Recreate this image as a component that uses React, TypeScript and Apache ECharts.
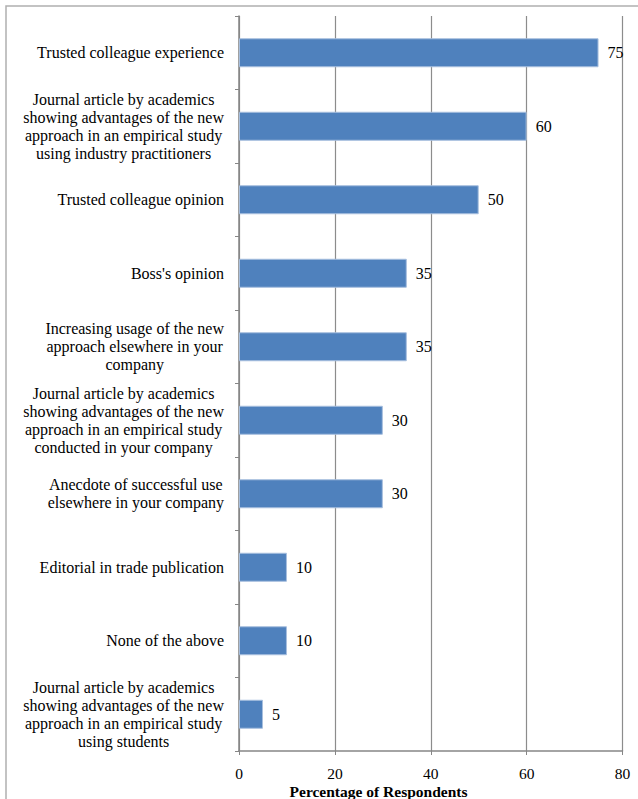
import React, { useEffect, useRef } from "react";
import * as echarts from "echarts";

const categories = [
  "Trusted colleague experience",
  "Journal article by academics\nshowing advantages of the new\napproach in an empirical study\nusing industry practitioners",
  "Trusted colleague opinion",
  "Boss's opinion",
  "Increasing usage of the new\napproach elsewhere in your\ncompany",
  "Journal article by academics\nshowing advantages of the new\napproach in an empirical study\nconducted in your company",
  "Anecdote of successful use\nelsewhere in your company",
  "Editorial in trade publication",
  "None of the above",
  "Journal article by academics\nshowing advantages of the new\napproach in an empirical study\nusing students",
];
const values = [75, 60, 50, 35, 35, 30, 30, 10, 10, 5];
const xTicks = [0, 20, 40, 60, 80];
const axisTitle = "Percentage of Respondents";

const FONT = "'Liberation Serif', 'Times New Roman', serif";

export default function App() {
  const ref = useRef<HTMLDivElement>(null);
  useEffect(() => {
    if (!ref.current) return;
    const chart = echarts.init(ref.current, undefined, { renderer: "svg" });
    chart.setOption({
      animation: false,
      backgroundColor: "#fff",
      textStyle: { fontFamily: FONT },
      grid: { left: 239, right: 15.5, top: 16, bottom: 48, containLabel: false },
      xAxis: {
        type: "value",
        min: xTicks[0],
        max: xTicks[xTicks.length - 1],
        interval: 20,
        axisLine: { show: true, lineStyle: { color: "#868686", width: 1.5 } },
        axisTick: { show: true, length: 4, lineStyle: { color: "#868686" } },
        splitLine: { show: true, lineStyle: { color: "#8c8c8c", width: 1.2 } },
        axisLabel: { color: "#000", fontSize: 15.5, fontFamily: FONT, margin: 15, lineHeight: 15 },
      },
      yAxis: {
        type: "category",
        inverse: true,
        data: categories,
        axisLine: { show: true, lineStyle: { color: "#868686", width: 1.5 } },
        axisTick: { show: true, length: 4, lineStyle: { color: "#868686" } },
        axisLabel: {
          color: "#000",
          fontFamily: FONT,
          fontSize: 16,
          margin: 15,
          interval: 0,
          formatter: (v: string) =>
            v
              .split("\n")
              .map((l) => `{c|${l}}`)
              .join("\n"),
          rich: {
            c: { align: "center", fontSize: 16, fontFamily: FONT, color: "#000", lineHeight: 18 },
          },
        },
      },
      series: [
        {
          type: "bar",
          data: values,
          barWidth: 29,
          itemStyle: { color: "#4F81BD", borderColor: "#A7BFDE", borderWidth: 1 },
          label: {
            show: true,
            position: "right",
            distance: 9,
            color: "#000",
            fontSize: 16,
            fontFamily: FONT,
          },
          z: 1,
        },
      ],
      graphic: [
        {
          type: "rect",
          shape: { x: 6, y: 6, width: 700, height: 900 },
          style: { fill: "none", stroke: "#b0b0b0", lineWidth: 1.5 },
          silent: true,
          z: 100,
        },
        {
          type: "text",
          x: 378.5,
          y: 791.5,
          style: {
            text: axisTitle,
            textAlign: "center",
            textVerticalAlign: "middle",
            font: `bold 15.5px ${FONT}`,
            fill: "#000",
          },
        },
      ],
    });
    return () => chart.dispose();
  }, []);
  return (
    <div
      ref={ref}
      style={{ position: "absolute", left: 0, top: 0, width: 638, height: 799 }}
    />
  );
}
